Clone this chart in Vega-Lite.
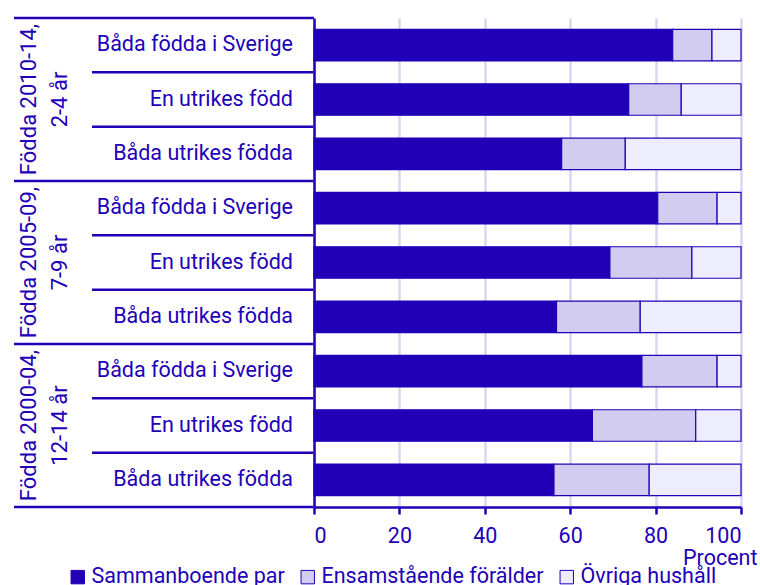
{
  "$schema": "https://vega.github.io/schema/vega-lite/v6.json",
  "padding": {"left": 12, "top": 16, "right": 21, "bottom": 0},
  "spacing": 0,
  "bounds": "flush",
  "config": {
    "view": {"stroke": null},
    "font": "Roboto",
    "text": {"font": "Roboto"}
  },
  "datasets": {
    "hushall": [
      {"grupp": "Födda 2010-14,\n2-4 år", "kategori": "Båda födda i Sverige", "rad": "2010-14 | Båda födda i Sverige", "hushall": "Sammanboende par", "procent": 84.0},
      {"grupp": "Födda 2010-14,\n2-4 år", "kategori": "Båda födda i Sverige", "rad": "2010-14 | Båda födda i Sverige", "hushall": "Ensamstående förälder", "procent": 9.2},
      {"grupp": "Födda 2010-14,\n2-4 år", "kategori": "Båda födda i Sverige", "rad": "2010-14 | Båda födda i Sverige", "hushall": "Övriga hushåll", "procent": 6.8},
      {"grupp": "Födda 2010-14,\n2-4 år", "kategori": "En utrikes född", "rad": "2010-14 | En utrikes född", "hushall": "Sammanboende par", "procent": 73.7},
      {"grupp": "Födda 2010-14,\n2-4 år", "kategori": "En utrikes född", "rad": "2010-14 | En utrikes född", "hushall": "Ensamstående förälder", "procent": 12.3},
      {"grupp": "Födda 2010-14,\n2-4 år", "kategori": "En utrikes född", "rad": "2010-14 | En utrikes född", "hushall": "Övriga hushåll", "procent": 14.0},
      {"grupp": "Födda 2010-14,\n2-4 år", "kategori": "Båda utrikes födda", "rad": "2010-14 | Båda utrikes födda", "hushall": "Sammanboende par", "procent": 58.0},
      {"grupp": "Födda 2010-14,\n2-4 år", "kategori": "Båda utrikes födda", "rad": "2010-14 | Båda utrikes födda", "hushall": "Ensamstående förälder", "procent": 14.9},
      {"grupp": "Födda 2010-14,\n2-4 år", "kategori": "Båda utrikes födda", "rad": "2010-14 | Båda utrikes födda", "hushall": "Övriga hushåll", "procent": 27.1},
      {"grupp": "Födda 2005-09,\n7-9 år", "kategori": "Båda födda i Sverige", "rad": "2005-09 | Båda födda i Sverige", "hushall": "Sammanboende par", "procent": 80.5},
      {"grupp": "Födda 2005-09,\n7-9 år", "kategori": "Båda födda i Sverige", "rad": "2005-09 | Båda födda i Sverige", "hushall": "Ensamstående förälder", "procent": 13.9},
      {"grupp": "Födda 2005-09,\n7-9 år", "kategori": "Båda födda i Sverige", "rad": "2005-09 | Båda födda i Sverige", "hushall": "Övriga hushåll", "procent": 5.6},
      {"grupp": "Födda 2005-09,\n7-9 år", "kategori": "En utrikes född", "rad": "2005-09 | En utrikes född", "hushall": "Sammanboende par", "procent": 69.3},
      {"grupp": "Födda 2005-09,\n7-9 år", "kategori": "En utrikes född", "rad": "2005-09 | En utrikes född", "hushall": "Ensamstående förälder", "procent": 19.2},
      {"grupp": "Födda 2005-09,\n7-9 år", "kategori": "En utrikes född", "rad": "2005-09 | En utrikes född", "hushall": "Övriga hushåll", "procent": 11.5},
      {"grupp": "Födda 2005-09,\n7-9 år", "kategori": "Båda utrikes födda", "rad": "2005-09 | Båda utrikes födda", "hushall": "Sammanboende par", "procent": 56.8},
      {"grupp": "Födda 2005-09,\n7-9 år", "kategori": "Båda utrikes födda", "rad": "2005-09 | Båda utrikes födda", "hushall": "Ensamstående förälder", "procent": 19.6},
      {"grupp": "Födda 2005-09,\n7-9 år", "kategori": "Båda utrikes födda", "rad": "2005-09 | Båda utrikes födda", "hushall": "Övriga hushåll", "procent": 23.6},
      {"grupp": "Födda 2000-04,\n12-14 år", "kategori": "Båda födda i Sverige", "rad": "2000-04 | Båda födda i Sverige", "hushall": "Sammanboende par", "procent": 76.8},
      {"grupp": "Födda 2000-04,\n12-14 år", "kategori": "Båda födda i Sverige", "rad": "2000-04 | Båda födda i Sverige", "hushall": "Ensamstående förälder", "procent": 17.6},
      {"grupp": "Födda 2000-04,\n12-14 år", "kategori": "Båda födda i Sverige", "rad": "2000-04 | Båda födda i Sverige", "hushall": "Övriga hushåll", "procent": 5.6},
      {"grupp": "Födda 2000-04,\n12-14 år", "kategori": "En utrikes född", "rad": "2000-04 | En utrikes född", "hushall": "Sammanboende par", "procent": 65.2},
      {"grupp": "Födda 2000-04,\n12-14 år", "kategori": "En utrikes född", "rad": "2000-04 | En utrikes född", "hushall": "Ensamstående förälder", "procent": 24.2},
      {"grupp": "Födda 2000-04,\n12-14 år", "kategori": "En utrikes född", "rad": "2000-04 | En utrikes född", "hushall": "Övriga hushåll", "procent": 10.6},
      {"grupp": "Födda 2000-04,\n12-14 år", "kategori": "Båda utrikes födda", "rad": "2000-04 | Båda utrikes födda", "hushall": "Sammanboende par", "procent": 56.2},
      {"grupp": "Födda 2000-04,\n12-14 år", "kategori": "Båda utrikes födda", "rad": "2000-04 | Båda utrikes födda", "hushall": "Ensamstående förälder", "procent": 22.3},
      {"grupp": "Födda 2000-04,\n12-14 år", "kategori": "Båda utrikes födda", "rad": "2000-04 | Båda utrikes födda", "hushall": "Övriga hushåll", "procent": 21.5}
    ]
  },
  "hconcat": [
    {
      "width": 300,
      "height": 489,
      "data": {"name": "hushall"},
      "transform": [{"filter": "datum.hushall === 'Sammanboende par'"}],
      "layer": [
        {
          "mark": {"type": "text", "align": "right", "baseline": "middle", "fontSize": 21.5, "color": "#2100b8"},
          "encoding": {
            "x": {"datum": 93, "type": "quantitative", "scale": {"domain": [0, 100]}, "axis": null},
            "y": {"field": "rad", "type": "nominal", "sort": null, "scale": {"padding": 0}, "axis": null},
            "text": {"field": "kategori"}
          }
        },
        {
          "transform": [{"filter": "datum.kategori === 'En utrikes född'"}],
          "mark": {"type": "text", "align": "center", "baseline": "middle", "angle": 270, "fontSize": 22, "color": "#2100b8", "lineBreak": "\n", "lineHeight": 31, "dy": -6},
          "encoding": {
            "x": {"datum": 7, "type": "quantitative"},
            "y": {"field": "rad", "type": "nominal", "sort": null},
            "text": {"field": "grupp"}
          }
        },
        {
          "transform": [{"filter": "datum.kategori === 'Båda utrikes födda'"}],
          "mark": {"type": "rule", "color": "#2100b8", "strokeWidth": 2.5},
          "encoding": {
            "x": {"datum": 0, "type": "quantitative"},
            "x2": {"datum": 100},
            "y": {"field": "rad", "type": "nominal", "sort": null, "bandPosition": 1}
          }
        },
        {
          "transform": [{"filter": "datum.rad === '2010-14 | Båda födda i Sverige'"}],
          "mark": {"type": "rule", "color": "#2100b8", "strokeWidth": 2.5},
          "encoding": {
            "x": {"datum": 0, "type": "quantitative"},
            "x2": {"datum": 100},
            "y": {"field": "rad", "type": "nominal", "sort": null, "bandPosition": 0}
          }
        },
        {
          "transform": [{"filter": "datum.kategori !== 'Båda utrikes födda'"}],
          "mark": {"type": "rule", "color": "#2100b8", "strokeWidth": 2.5},
          "encoding": {
            "x": {"datum": 26, "type": "quantitative"},
            "x2": {"datum": 100},
            "y": {"field": "rad", "type": "nominal", "sort": null, "bandPosition": 1}
          }
        }
      ]
    },
    {
      "width": 427,
      "height": 489,
      "data": {"name": "hushall"},
      "mark": {"type": "bar", "stroke": "#2100b8", "strokeWidth": 1.2},
      "encoding": {
        "x": {
          "field": "procent", "type": "quantitative", "stack": "zero",
          "scale": {"domain": [0, 100], "nice": false},
          "axis": {
            "values": [0, 20, 40, 60, 80, 100],
            "grid": true, "gridColor": "#d9d6f2", "gridWidth": 2.5,
            "domainColor": "#2100b8", "domainWidth": 2.5,
            "tickColor": "#2100b8", "tickWidth": 2.5, "tickSize": 7,
            "labelFontSize": 21.5, "labelColor": "#2100b8", "labelPadding": 11, "labelFont": "Roboto",
            "title": "Procent", "titleFont": "Roboto", "titleFontSize": 21.5, "titleFontWeight": "normal", "titleColor": "#2100b8",
            "titleAlign": "right", "titleAnchor": "end", "titleX": 443, "titleY": 57, "titleBaseline": "alphabetic"
          }
        },
        "y": {
          "field": "rad", "type": "nominal", "sort": null,
          "scale": {"paddingInner": 0.42, "paddingOuter": 0.21},
          "axis": {"labels": false, "ticks": false, "title": null, "domainColor": "#2100b8", "domainWidth": 2.5}
        },
        "color": {
          "field": "hushall", "type": "nominal",
          "sort": ["Sammanboende par", "Ensamstående förälder", "Övriga hushåll"],
          "scale": {"domain": ["Sammanboende par", "Ensamstående förälder", "Övriga hushåll"], "range": ["#2100b8", "#d2cdf0", "#eeedfd"]},
          "legend": {
            "orient": "none", "legendX": 53, "legendY": 548, "direction": "horizontal", "title": null,
            "symbolType": "square", "symbolSize": 180, "symbolStrokeColor": "#2100b8", "symbolStrokeWidth": 1,
            "labelFontSize": 21.5, "labelColor": "#2100b8", "labelFont": "Roboto", "labelOffset": 3, "columnPadding": 12, "labelLimit": 400
          }
        },
        "order": {"field": "ordning", "type": "quantitative"}
      }
    }
  ]
}
